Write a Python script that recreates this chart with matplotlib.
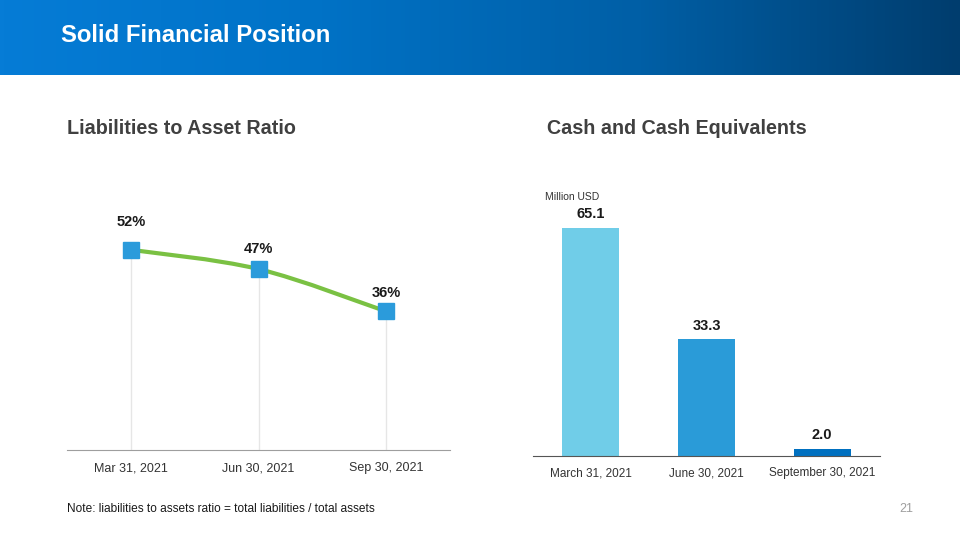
import numpy as np
import matplotlib
matplotlib.use("Agg")
import matplotlib.pyplot as plt
from matplotlib.path import Path
from matplotlib.patches import PathPatch
from matplotlib.colors import LinearSegmentedColormap

plt.rcParams['font.family'] = ['Liberation Sans', 'DejaVu Sans']

# data
ratio_dates = ["Mar 31, 2021", "Jun 30, 2021", "Sep 30, 2021"]
ratio_values = [52, 47, 36]
ratio_labels = ["52%", "47%", "36%"]

cash_dates = ["March 31, 2021", "June 30, 2021", "September 30, 2021"]
cash_values = [65.1, 33.3, 2.0]
cash_labels = ["65.1", "33.3", "2.0"]
cash_colors = ["#70CDE8", "#2A9BD8", "#0070C0"]

W, H = 960, 540
fig = plt.figure(figsize=(9.6, 5.4), dpi=100)
fig.patch.set_facecolor("white")


def px(x, y, w, h):
    # pixel box (top-left origin) -> figure fraction
    return [x / W, 1 - (y + h) / H, w / W, h / H]


# header band with gradient
ax_hd = fig.add_axes(px(0, 0, 960, 75))
grad = np.linspace(0, 1, 256).reshape(1, -1)
cmap = LinearSegmentedColormap.from_list(
    "hdr", ["#067CD6", "#0072C6", "#005FA6", "#003D6E"], N=256)
ax_hd.imshow(grad, aspect="auto", cmap=cmap, extent=[0, 1, 0, 1])
ax_hd.set_axis_off()
fig.text(61 / W, 1 - 36 / H, "Solid Financial Position", color="white",
         fontsize=17.2, fontweight="bold", va="center", ha="left")

# section titles
fig.text(67 / W, 1 - 129 / H, "Liabilities to Asset Ratio", color="#404040",
         fontsize=14.2, fontweight="bold", va="center")
fig.text(547 / W, 1 - 129 / H, "Cash and Cash Equivalents", color="#404040",
         fontsize=14.2, fontweight="bold", va="center")

# ---- line chart ----
ax1 = fig.add_axes(px(67, 190, 383, 260))
x = np.arange(len(ratio_values))
ax1.set_xlim(-0.5, 2.5)
ax1.set_ylim(0, 260 / 3.85)
ax1.vlines(x, 0, ratio_values, color="#E6E6E6", lw=1, zorder=1)

# smooth curve through the points (cubic bezier, catmull-rom style)
pts = np.column_stack([x, ratio_values]).astype(float)
verts = [tuple(pts[0])]
codes = [Path.MOVETO]
for i in range(len(pts) - 1):
    p0 = pts[i - 1] if i > 0 else pts[i]
    p1, p2 = pts[i], pts[i + 1]
    p3 = pts[i + 2] if i + 2 < len(pts) else pts[i + 1]
    c1 = p1 + (p2 - p0) / 6
    c2 = p2 - (p3 - p1) / 6
    verts += [tuple(c1), tuple(c2), tuple(p2)]
    codes += [Path.CURVE4] * 3
ax1.add_patch(PathPatch(Path(verts, codes), fill=False, edgecolor="#7AC143",
                        lw=3, capstyle="round", zorder=2))
ax1.plot(x, ratio_values, ls="none", marker="s", ms=11.5, color="#2B9BDB",
         mec="#2B9BDB", zorder=3)
label_offsets = [28, 20, 18]
for xi, v, lab, off in zip(x, ratio_values, ratio_labels, label_offsets):
    ax1.annotate(lab, (xi, v), xytext=(0, off * 0.72), textcoords="offset points",
                 ha="center", va="center", fontsize=10.5, fontweight="bold",
                 color="#1A1A1A")
ax1.set_xticks(x)
ax1.set_xticklabels(ratio_dates, fontsize=9, color="#333333")
ax1.tick_params(axis="x", length=0, pad=9)
ax1.set_yticks([])
for s in ["top", "right", "left"]:
    ax1.spines[s].set_visible(False)
ax1.spines["bottom"].set_color("#9E9E9E")
ax1.patch.set_alpha(0)

# ---- bar chart ----
ax2 = fig.add_axes(px(533, 200, 347, 256))
xb = np.arange(len(cash_values))
ax2.set_xlim(-0.5, 2.5)
ax2.set_ylim(0, 256 / 3.5)
ax2.bar(xb, cash_values, width=0.49, color=cash_colors, zorder=2)
for xi, v, lab in zip(xb, cash_values, cash_labels):
    ax2.annotate(lab, (xi, v), xytext=(0, 10), textcoords="offset points",
                 ha="center", va="center", fontsize=10.5, fontweight="bold",
                 color="#1A1A1A")
ax2.set_xticks(xb)
ax2.set_xticklabels(cash_dates, fontsize=8.5, color="#333333")
ax2.tick_params(axis="x", length=0, pad=8)
ax2.set_yticks([])
for s in ["top", "right", "left"]:
    ax2.spines[s].set_visible(False)
ax2.spines["bottom"].set_color("#555555")
ax2.patch.set_alpha(0)
fig.text(545 / W, 1 - 197 / H, "Million USD", fontsize=7.5, color="#333333",
         va="center")

# footer
fig.text(67 / W, 1 - 509 / H, "Note: liabilities to assets ratio = total liabilities / total assets",
         fontsize=8.6, color="#1A1A1A", va="center")
fig.text(913 / W, 1 - 509 / H, "21", fontsize=9, color="#9E9E9E", va="center",
         ha="right")

fig.savefig("out.png", dpi=100)
